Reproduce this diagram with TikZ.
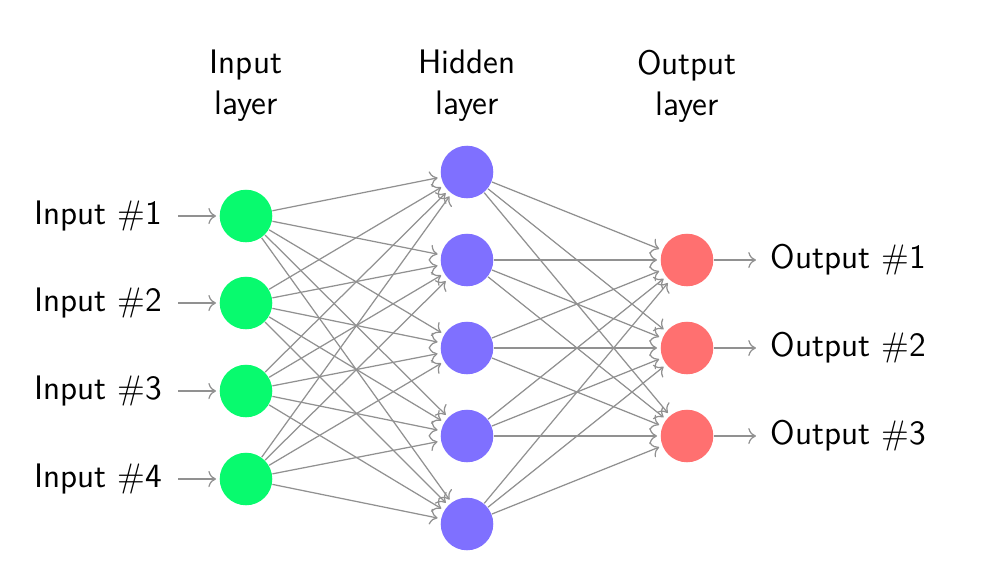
\documentclass[tikz,border=0pt]{standalone}
\usetikzlibrary{arrows.meta}
\definecolor{ingreen}{RGB}{8,250,110}
\definecolor{hidblue}{RGB}{127,112,255}
\definecolor{outred}{RGB}{255,112,112}
\definecolor{edgegray}{RGB}{145,145,145}
\begin{document}
\begin{tikzpicture}[x=0.011364cm,y=-0.011364cm,
  font=\sffamily\fontsize{11}{13.2}\selectfont,
  neuron/.style={circle,minimum size=17pt,inner sep=0pt},
  inneuron/.style={neuron,fill=ingreen},
  hidneuron/.style={neuron,fill=hidblue},
  outneuron/.style={neuron,fill=outred},
  conn/.style={->,draw=edgegray,line width=0.4pt,shorten >=1pt},
  annot/.style={align=center}]
\useasboundingbox (0,0) rectangle (981,573);
% input layer
\foreach \i/\y in {1/216,2/303,3/391,4/479}{
  \node[inneuron] (I\i) at (246,\y) {};
  \node[anchor=east,inner sep=0pt] (IL\i) at (163,\y) {Input \#\i};
  \coordinate (IS\i) at (178,\y);
  \draw[conn] (IS\i) -- (I\i);
}
% hidden layer
\foreach \i/\y in {1/172,2/260,3/348,4/436,5/524}{
  \node[hidneuron] (H\i) at (467,\y) {};
}
% output layer
\foreach \i/\y in {1/260,2/348,3/436}{
  \node[outneuron] (O\i) at (687,\y) {};
  \node[anchor=west,inner sep=0pt] (OL\i) at (770,\y) {Output \#\i};
  \coordinate (OE\i) at (759,\y);
  \draw[conn] (O\i) -- (OE\i);
}
% connections
\foreach \a in {1,...,4}{
  \foreach \b in {1,...,5}{
    \draw[conn] (I\a) -- (H\b);
  }
}
\foreach \a in {1,...,5}{
  \foreach \b in {1,...,3}{
    \draw[conn] (H\a) -- (O\b);
  }
}
% annotations
\node[annot] (AI) at (246,86) {Input\\layer};
\node[annot] (AH) at (467,86) {Hidden\\layer};
\node[annot] (AO) at (687,86) {Output\\layer};
\end{tikzpicture}
\end{document}
